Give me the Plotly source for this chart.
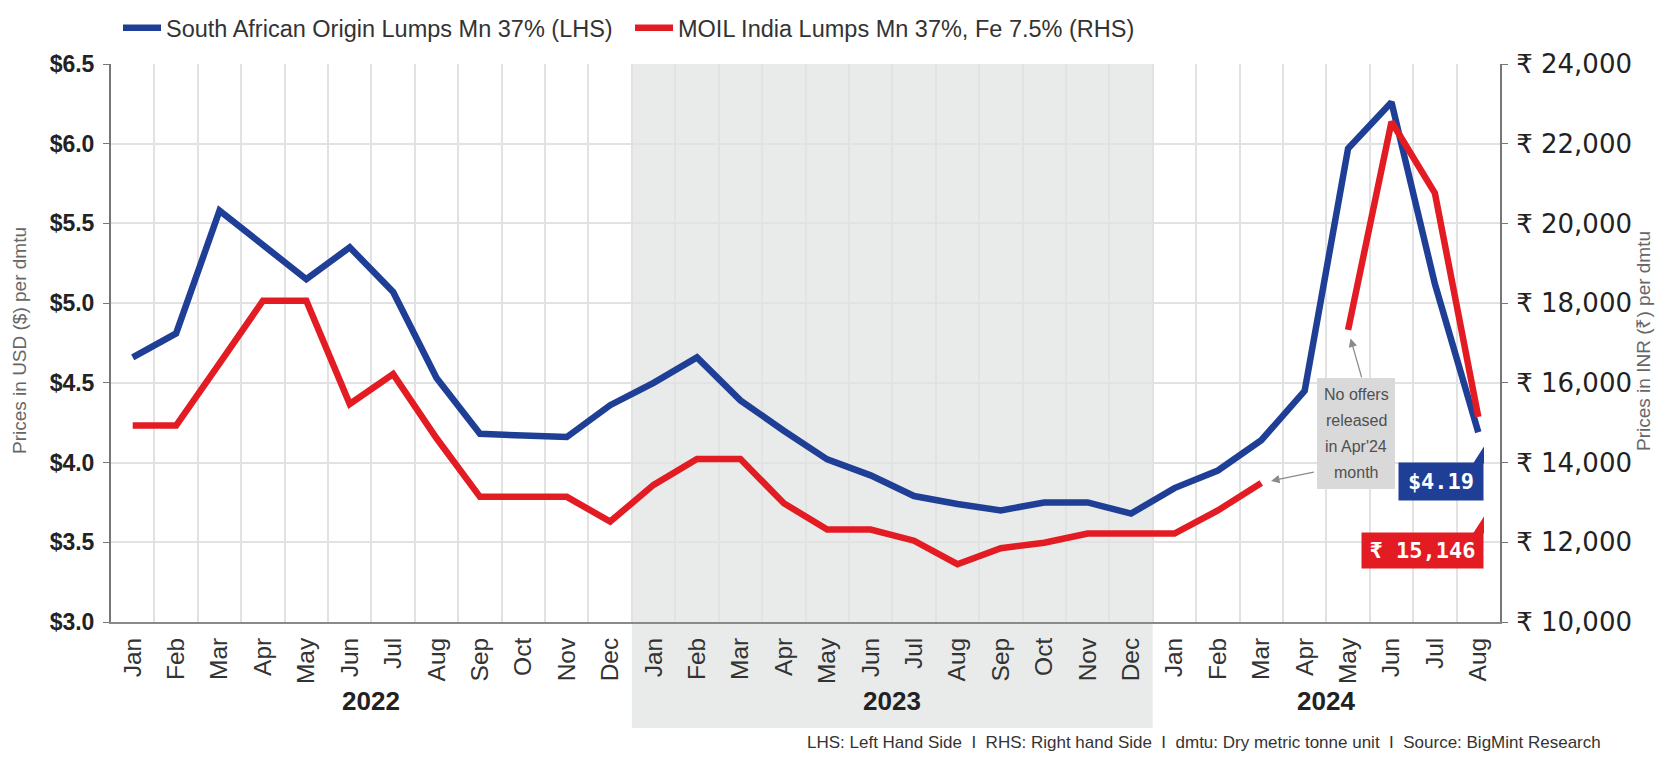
import plotly.graph_objects as go

# ---------------- data ----------------
months = ["Jan", "Feb", "Mar", "Apr", "May", "Jun", "Jul", "Aug", "Sep", "Oct", "Nov", "Dec"]
month_labels = months * 2 + months[:8]
years = ["2022", "2023", "2024"]
year_centers = [5.5, 17.5, 27.5]

usd_lumps = [4.66, 4.81, 5.58, 5.36, 5.15, 5.35, 5.07, 4.53, 4.18, 4.17, 4.16, 4.36,
             4.50, 4.66, 4.39, 4.20, 4.02, 3.92, 3.79, 3.74, 3.70, 3.75, 3.75, 3.68,
             3.84, 3.95, 4.14, 4.45, 5.97, 6.26, 5.12, 4.19]
inr_moil = [14930, 14930, 16490, 18060, 18060, 15470, 16220, 14610, 13140, 13140, 13140, 12520,
            13440, 14090, 14090, 12980, 12320, 12320, 12040, 11450, 11850, 11990, 12220, 12220,
            12220, 12800, 13490, None, 17330, 22550, 20760, 15146]

name_usd = "South African Origin Lumps Mn 37% (LHS)"
name_inr = "MOIL India Lumps Mn 37%, Fe 7.5% (RHS)"
note_lines = ["No offers", "released", "in Apr'24", "month"]
footer = "LHS: Left Hand Side  I  RHS: Right hand Side  I  dmtu: Dry metric tonne unit  I  Source: BigMint Research"

x_idx = list(range(len(month_labels)))

# ---------------- styling ----------------
BLUE = "#1f3f97"
RED = "#e31b23"
GRID = "#e2e2e2"
SHADE = "#e9ebea"

OFF = 8                      # page body margin
W, H = 1648, 747             # figure size inside the page
L, R, T, B = 103, 156, 56, 133
PW, PH = W - L - R, H - T - B


def px(xp):                  # page pixel -> paper x
    return (xp - OFF - L) / PW


def py(yp):                  # page pixel -> paper y
    return (H - B - (yp - OFF)) / PH


fig = go.Figure()
fig.add_trace(go.Scatter(x=x_idx, y=usd_lumps, name=name_usd, mode="lines",
                         line=dict(color=BLUE, width=6.5), yaxis="y"))
fig.add_trace(go.Scatter(x=x_idx, y=inr_moil, name=name_inr, mode="lines",
                         line=dict(color=RED, width=6.5), yaxis="y2", connectgaps=False))

shapes = [
    dict(type="rect", xref="paper", yref="paper", x0=12 / 32, x1=24 / 32,
         y0=py(728), y1=1, fillcolor=SHADE, line=dict(width=0), layer="below"),
    # note box
    dict(type="rect", xref="paper", yref="paper", x0=px(1317), x1=px(1395),
         y0=py(489), y1=py(378), fillcolor="#d9d9d9", line=dict(width=0), layer="above"),
]

# value tags with little tabs
tags = [
    dict(text=f"${usd_lumps[-1]:.2f}", color=BLUE, x1=1484, w=84, yc=481, h=37),
    dict(text=f"₹ {inr_moil[-1]:,}", color=RED, x1=1484, w=121, yc=550, h=35),
]
annotations = []
for t in tags:
    top = t["yc"] - t["h"] / 2
    shapes.append(dict(type="path", xref="paper", yref="paper",
                       path=f"M {px(t['x1'])},{py(top + 1)} L {px(t['x1'])},{py(top - 16)} L {px(t['x1'] - 11)},{py(top + 1)} Z",
                       fillcolor=t["color"], line=dict(width=0), layer="above"))
    annotations.append(dict(xref="paper", yref="paper", x=px(t["x1"]), y=py(t["yc"]),
                            xanchor="right", yanchor="middle", text=f"<b>{t['text']}</b>",
                            showarrow=False, bgcolor=t["color"], width=t["w"], height=t["h"],
                            borderpad=0, font=dict(family="DejaVu Sans Mono", size=22, color="white")))

# note text lines
for i, line in enumerate(note_lines):
    annotations.append(dict(xref="paper", yref="paper", x=px(1356), y=py(394.5 + 26 * i),
                            xanchor="center", yanchor="middle", text=line, showarrow=False,
                            font=dict(family="Liberation Sans", size=16, color="#505050")))
# arrows to the red segment ends
annotations.append(dict(xref="x", yref="y2", x=x_idx[28], y=inr_moil[28], ax=14, ay=49,
                        text="", showarrow=True, arrowhead=2, arrowsize=1.3, arrowwidth=1.3,
                        arrowcolor="#8a8a8a", standoff=9))
annotations.append(dict(xref="x", yref="y2", x=x_idx[26], y=inr_moil[26], ax=54, ay=-11,
                        text="", showarrow=True, arrowhead=2, arrowsize=1.3, arrowwidth=1.3,
                        arrowcolor="#8a8a8a", standoff=10))

# year labels
for yr, c in zip(years, year_centers):
    annotations.append(dict(xref="x", yref="paper", x=c, y=py(701), text=f"<b>{yr}</b>",
                            showarrow=False, yanchor="middle",
                            font=dict(family="Liberation Sans", size=26, color="#222")))

# axis titles
annotations.append(dict(xref="paper", yref="paper", x=px(19), y=py(341), text="Prices in USD ($) per dmtu",
                        textangle=-90, showarrow=False, xanchor="center", yanchor="middle",
                        font=dict(family="Liberation Sans", size=19, color="#666")))
annotations.append(dict(xref="paper", yref="paper", x=px(1643), y=py(341), text="Prices in INR (₹) per dmtu",
                        textangle=-90, showarrow=False, xanchor="center", yanchor="middle",
                        font=dict(family="Liberation Sans", size=19, color="#666")))
# footer
annotations.append(dict(xref="paper", yref="paper", x=px(1603), y=py(742.5), text=footer,
                        showarrow=False, xanchor="right", yanchor="middle",
                        font=dict(family="Liberation Sans", size=17, color="#333")))

fig.update_layout(
    width=W, height=H, autosize=False,
    margin=dict(l=L, r=R, t=T, b=B, autoexpand=False),
    paper_bgcolor="white",
    plot_bgcolor="rgba(0,0,0,0)",
    showlegend=True,
    legend=dict(orientation="h", xref="container", yref="container",
                x=(118 - OFF) / W, xanchor="left", y=1 - (28 - OFF) / H, yanchor="middle",
                font=dict(family="Liberation Sans", size=23.5, color="#333"),
                bgcolor="rgba(0,0,0,0)", itemwidth=38, entrywidth=459),
    xaxis=dict(range=[-0.5, len(month_labels) - 0.5], tickmode="array", tickvals=x_idx,
               ticktext=month_labels, tickangle=-90, showgrid=False, zeroline=False,
               tickfont=dict(family="Liberation Sans", size=24.5, color="#333"),
               ticks="", ticklabelstandoff=4,
               minor=dict(tick0=-0.5, dtick=1, showgrid=True, gridcolor=GRID, gridwidth=1.5, ticks=""),
               showline=True, linecolor="#8a8a8a", linewidth=2),
    yaxis=dict(range=[3, 6.5], tick0=3, dtick=0.5, tickprefix="$", tickformat=".1f",
               showgrid=True, gridcolor=GRID, gridwidth=1.5, zeroline=False,
               showline=True, linecolor="#777", linewidth=2, ticks="outside", ticklen=6,
               tickcolor="#777", ticklabelstandoff=4,
               tickfont=dict(family="Liberation Sans", size=23, color="#222", weight="bold")),
    yaxis2=dict(range=[10000, 24000], tick0=10000, dtick=2000, tickprefix="₹ ", tickformat=",",
                overlaying="y", side="right", showgrid=False, zeroline=False,
                showline=True, linecolor="#777", linewidth=2, ticks="outside", ticklen=6,
                tickcolor="#777", ticklabelstandoff=3,
                tickfont=dict(family="DejaVu Sans", size=26, color="#222")),
    shapes=shapes,
    annotations=annotations,
)

fig.write_html("out.html")
